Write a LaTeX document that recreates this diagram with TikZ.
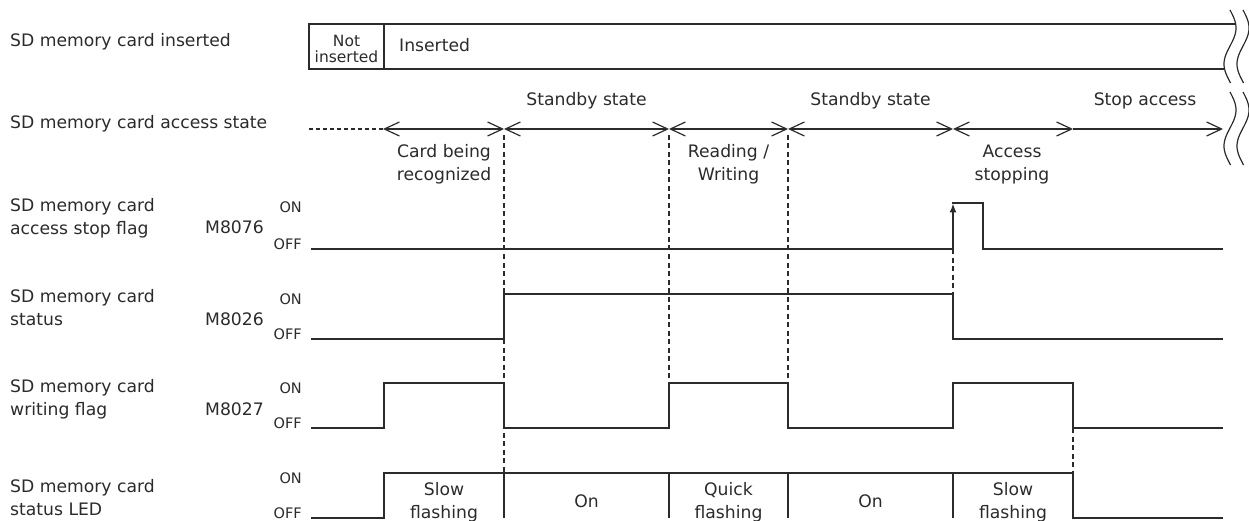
\documentclass[tikz,border=0pt]{standalone}
\usepackage{fontspec}
\setmainfont{DejaVu Sans}
\usetikzlibrary{arrows.meta}
\definecolor{ink}{HTML}{2B2B2B}
\begin{document}
\begin{tikzpicture}[x=1pt,y=-1pt,line join=miter,
  lbl/.style={font=\fontsize{17.2}{20}\selectfont, text=ink, inner sep=0pt},
  sm/.style={font=\fontsize{14.5}{16}\selectfont, text=ink, inner sep=0pt},
  sig/.style={draw=ink, line width=1.4pt},
  acc/.style={draw=ink, line width=1.2pt, {Straight Barb[length=15pt,width=14pt,line width=1.2pt]}-{Straight Barb[length=15pt,width=14pt,line width=1.2pt]}},
  dsh/.style={draw=ink, line width=1.2pt, dash pattern=on 5pt off 3.5pt},
  wave/.style={draw=ink, line width=1.2pt}]
\useasboundingbox (0,0) rectangle (1249,521);
\clip (0,0) rectangle (1249,521);

% ---------- left labels ----------
\node[lbl, anchor=base west] (l1) at (10,47) {SD memory card inserted};
\node[lbl, anchor=base west] (l2) at (10,129) {SD memory card access state};
\node[lbl, anchor=base west] (l3a) at (10,212) {SD memory card};
\node[lbl, anchor=base west] (l3b) at (10,235) {access stop flag};
\node[lbl, anchor=base west] (l4a) at (10,302) {SD memory card};
\node[lbl, anchor=base west] (l4b) at (10,325) {status};
\node[lbl, anchor=base west] (l5a) at (10,392) {SD memory card};
\node[lbl, anchor=base west] (l5b) at (10,415) {writing flag};
\node[lbl, anchor=base west] (l6a) at (10,492) {SD memory card};
\node[lbl, anchor=base west] (l6b) at (10,515) {status LED};

\node[lbl, anchor=base east] (m1) at (264,234) {M8076};
\node[lbl, anchor=base east] (m2) at (264,325) {M8026};
\node[lbl, anchor=base east] (m3) at (264,415) {M8027};

\foreach \on/\off/\nm in {203/249/a,294/339/b,383/428/c,473/518/d}{
  \node[sm, anchor=base east] (on\nm) at (302,\on+10) {ON};
  \node[sm, anchor=base east] (off\nm) at (302,\off) {OFF};
}

% ---------- inserted box ----------
\draw[sig, line width=1.3pt] (1235.6,24) -- (309,24) -- (309,69) -- (1224.6,69);
\draw[sig, line width=1.3pt] (384,24) -- (384,69);
\node[sm, font=\fontsize{15.5}{16}\selectfont, anchor=base] (ni1) at (346.5,47) {Not};
\node[sm, font=\fontsize{15.5}{16}\selectfont, anchor=base] (ni2) at (346.5,63) {inserted};
\node[lbl, anchor=base west] (ins) at (399,52) {Inserted};

% break marks
\draw[wave] plot[domain=10:83, samples=50, smooth] ({1230+6*sin(5*(\x-10))}, \x);
\draw[wave] plot[domain=10:83, samples=50, smooth] ({1243+6*sin(5*(\x-10))}, \x);
\draw[wave] plot[domain=92:165, samples=50, smooth] ({1230+6*sin(5*(\x-92))}, \x);
\draw[wave] plot[domain=92:165, samples=50, smooth] ({1243+6*sin(5*(\x-92))}, \x);

% ---------- access state ----------
\draw[dsh, dash pattern=on 4pt off 3pt] (309,129) -- (383,129);
\coordinate (a0) at (383,129);
\coordinate (a1) at (504,129);
\coordinate (a2) at (669,129);
\coordinate (a3) at (788,129);
\coordinate (a4) at (953,129);
\coordinate (a5) at (1073,129);
\coordinate (a6) at (1223,129);
\draw[acc] (a0) -- (a1);
\draw[acc] (a1) -- (a2);
\draw[acc] (a2) -- (a3);
\draw[acc] (a3) -- (a4);
\draw[acc] (a4) -- (a5);
\draw[draw=ink, line width=1.2pt, -{Straight Barb[length=15pt,width=14pt,line width=1.2pt]}] (a5) -- (a6);

\node[lbl, anchor=base] (s1) at (586.5,106) {Standby state};
\node[lbl, anchor=base] (s2) at (870.5,106) {Standby state};
\node[lbl, anchor=base] (s3) at (1145,106) {Stop access};
\node[lbl, anchor=base] (c1) at (444,158) {Card being};
\node[lbl, anchor=base] (c2) at (444,181) {recognized};
\node[lbl, anchor=base] (r1) at (728.5,158) {Reading /};
\node[lbl, anchor=base] (r2) at (728.5,181) {Writing};
\node[lbl, anchor=base] (x1) at (1012,158) {Access};
\node[lbl, anchor=base] (x2) at (1012,181) {stopping};

% ---------- dashed guides ----------
\draw[dsh] (504,135) -- (504,473);
\draw[dsh] (669,135) -- (669,383);
\draw[dsh] (788,135) -- (788,383);
\draw[dsh] (953,249) -- (953,294);
\draw[dsh] (1073,428) -- (1073,473);

% ---------- signals ----------
% M8076
\draw[sig] (311,249) -- (953,249);
\draw[sig, -{Latex[length=9pt,width=7pt]}] (953,249) -- (953,203.5);
\draw[sig] (952.3,203) -- (983,203) -- (983,249) -- (1223,249);
% M8026
\draw[sig] (311,339) -- (504,339) -- (504,294) -- (953,294) -- (953,339) -- (1223,339);
% M8027
\draw[sig] (311,428) -- (384,428) -- (384,383) -- (504,383) -- (504,428) -- (669,428)
  -- (669,383) -- (788,383) -- (788,428) -- (953,428) -- (953,383) -- (1073,383)
  -- (1073,428) -- (1223,428);
% LED
\draw[sig] (311,518) -- (384,518) -- (384,473) -- (1073,473) -- (1073,518) -- (1223,518);
\foreach \xx in {504,669,788,953}{
  \draw[sig] (\xx,473) -- (\xx,518);
}
\node[lbl, anchor=base] (d1a) at (444,495) {Slow};
\node[lbl, anchor=base] (d1b) at (444,518) {flashing};
\node[lbl, anchor=base] (d2) at (586.5,507) {On};
\node[lbl, anchor=base] (d3a) at (728.5,495) {Quick};
\node[lbl, anchor=base] (d3b) at (728.5,518) {flashing};
\node[lbl, anchor=base] (d4) at (870.5,507) {On};
\node[lbl, anchor=base] (d5a) at (1013,495) {Slow};
\node[lbl, anchor=base] (d5b) at (1013,518) {flashing};
\end{tikzpicture}
\end{document}
